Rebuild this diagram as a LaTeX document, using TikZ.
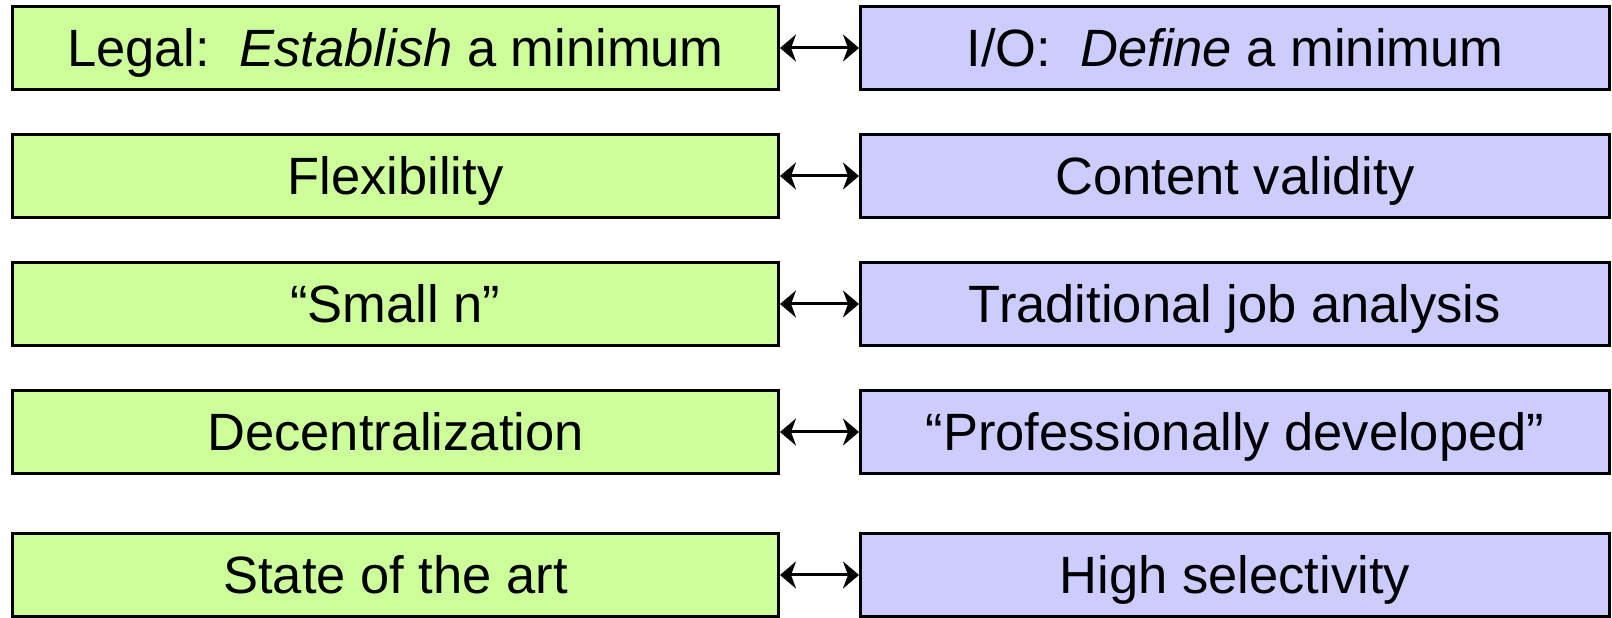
\documentclass[tikz,border=0pt]{standalone}
\usepackage{fontspec}
\setmainfont{Liberation Sans}
\usetikzlibrary{arrows.meta,positioning}

\definecolor{legalgreen}{RGB}{204,255,153}
\definecolor{ioblue}{RGB}{204,204,255}

\begin{document}
\begin{tikzpicture}[
  x=1pt, y=1pt,
  node distance=42pt and 79pt,
  side/.style={draw,line width=3pt,inner sep=0pt,minimum height=83pt,
    text height=37.6pt,text depth=0pt,
    font=\fontsize{52.5pt}{60pt}\selectfont},
  legal/.style={side,fill=legalgreen,minimum width=766pt},
  io/.style={side,fill=ioblue,minimum width=749pt},
  arr/.style={{Stealth[length=16pt,width=27pt,inset=5pt]}-{Stealth[length=16pt,width=27pt,inset=5pt]},line width=3pt}
]
\useasboundingbox (0,0) rectangle (1612,618);

\node[legal] (l1) at (395.5,570) {Legal:\ \ \textit{Establish} a minimum};
\node[legal, below=of l1] (l2) {Flexibility};
\node[legal, below=of l2] (l3) {“Small n”};
\node[legal, below=of l3] (l4) {Decentralization};
\node[legal, below=57pt of l4] (l5) {State of the art};

\node[io, right=of l1] (r1) {I/O:\ \ \textit{Define} a minimum};
\node[io, right=of l2] (r2) {Content validity};
\node[io, right=of l3] (r3) {Traditional job analysis};
\node[io, right=of l4] (r4) {“Professionally developed”};
\node[io, right=of l5] (r5) {High selectivity};

\foreach \i in {1,...,5}
  \draw[arr] (l\i) -- (r\i);
\end{tikzpicture}
\end{document}
